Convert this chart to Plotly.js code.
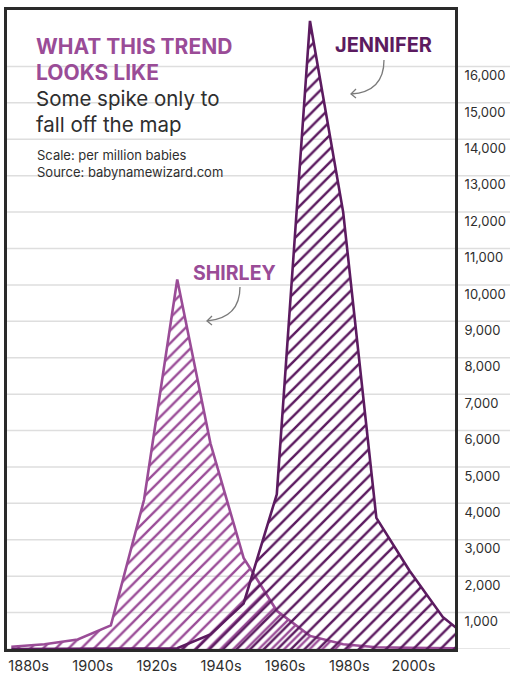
<!DOCTYPE html>
<html>
<head>
<meta charset="utf-8">
<script src="https://cdn.plot.ly/plotly-3.0.1.min.js"></script>
<style>
  html, body { margin: 0; padding: 0; background: #ffffff; }
  #chart { width: 510px; height: 673px; }
</style>
</head>
<body>
<div id="chart"></div>
<script>
// ---- Data ----
const decades = [1880, 1890, 1900, 1910, 1920, 1930, 1940, 1950, 1960, 1970, 1980, 1990, 2000, 2010, 2020];
const decadeLabels = ['1880s', '1900s', '1920s', '1940s', '1960s', '1980s', '2000s'];
const shirley  = [60, 130, 260, 650, 4100, 10150, 5650, 2500, 1050, 360, 130, 50, 30, 20, 10];
const jennifer = [0, 0, 0, 0, 0, 20, 400, 1250, 4250, 17250, 12000, 3600, 2150, 880, 150];
const yTickValues = [1000, 2000, 3000, 4000, 5000, 6000, 7000, 8000, 9000, 10000, 11000, 12000, 13000, 14000, 15000, 16000];
const gridValues = [0].concat(yTickValues);

// ---- Styling ----
const FONT = 'Inter, "Open Sans", sans-serif';
const SHIRLEY_COLOR = '#9a4c97';
const JENNIFER_COLOR = '#5c1b60';
const TEXT_DARK = '#2e2e2e';

// plot-area pixel geometry helpers (for layout placement only)
const L = 7, R = 455, T = 10, B = 649;
const px = x => (x - L) / (R - L);
const py = y => (B - y) / (B - T);

const traces = [
  {
    x: decades, y: shirley, type: 'scatter', mode: 'lines', name: 'Shirley',
    line: { color: SHIRLEY_COLOR, width: 2.6 },
    fill: 'tozeroy', fillcolor: 'rgba(0,0,0,0)',
    fillpattern: { shape: '/', size: 9, solidity: 0.26, fgcolor: SHIRLEY_COLOR, bgcolor: 'rgba(0,0,0,0)' },
    hoverinfo: 'skip'
  },
  {
    x: decades, y: jennifer, type: 'scatter', mode: 'lines', name: 'Jennifer',
    line: { color: JENNIFER_COLOR, width: 2.6 },
    fill: 'tozeroy', fillcolor: 'rgba(0,0,0,0)',
    fillpattern: { shape: '/', size: 9.6, solidity: 0.26, fgcolor: JENNIFER_COLOR, bgcolor: 'rgba(0,0,0,0)' },
    hoverinfo: 'skip'
  }
];

const shapes = gridValues.map(v => ({
  type: 'line', xref: 'paper', yref: 'y', x0: 0, x1: px(510), y0: v, y1: v,
  line: { color: '#dedede', width: 1.5 }, layer: 'below'
}));

function curvedArrow(x0, y0, cx, cy, x1, y1, hx1, hy1, hx2, hy2) {
  return [
    { type: 'path', xref: 'paper', yref: 'paper',
      path: `M${px(x0)},${py(y0)} Q${px(cx)},${py(cy)} ${px(x1)},${py(y1)}`,
      line: { color: '#7a7a7a', width: 1.3 } },
    { type: 'path', xref: 'paper', yref: 'paper',
      path: `M${px(hx1)},${py(hy1)} L${px(x1)},${py(y1)} L${px(hx2)},${py(hy2)}`,
      line: { color: '#7a7a7a', width: 1.3 } }
  ];
}
shapes.push(...curvedArrow(240, 287, 240, 318, 207, 321, 212, 316, 212, 325));
shapes.push(...curvedArrow(384, 60, 384, 92, 351, 94, 356, 89, 356, 98));

function textAnn(text, x, y, size, color, bold) {
  return {
    text: bold ? `<b>${text}</b>` : text,
    xref: 'paper', yref: 'paper', x: px(x), y: py(y),
    xanchor: 'left', yanchor: 'middle', showarrow: false,
    font: { family: FONT, size: size, color: color }
  };
}

const annotations = [
  textAnn('WHAT THIS TREND', 34, 46.5, 21, SHIRLEY_COLOR, true),
  textAnn('LOOKS LIKE', 34, 72.5, 21, SHIRLEY_COLOR, true),
  textAnn('Some spike only to', 34, 98, 20.5, TEXT_DARK, false),
  textAnn('fall off the map', 34, 124, 20.5, TEXT_DARK, false),
  textAnn('Scale: per million babies', 35, 155, 13, TEXT_DARK, false),
  textAnn('Source: babynamewizard.com', 35, 171.5, 13, TEXT_DARK, false),
  textAnn('SHIRLEY', 191, 273, 19.5, SHIRLEY_COLOR, true),
  textAnn('JENNIFER', 333, 45, 20, JENNIFER_COLOR, true)
];

const tickPositions = decadeLabels.map((_, i) => 1885.2 + i * 19.33);

const layout = {
  width: 510, height: 673,
  margin: { l: L, r: 510 - R, t: T, b: 673 - B, pad: 0 },
  paper_bgcolor: '#ffffff', plot_bgcolor: '#ffffff',
  showlegend: false,
  xaxis: {
    range: [1878.7, 2013.7], fixedrange: true,
    tickmode: 'array', tickvals: tickPositions, ticktext: decadeLabels,
    showgrid: false, zeroline: false, ticks: '',
    showline: true, mirror: true, linewidth: 3, linecolor: '#2a2a2a',
    tickfont: { family: FONT, size: 14.5, color: TEXT_DARK },
    ticklabelstandoff: 2
  },
  yaxis: {
    side: 'right', range: [0, 17550], fixedrange: true,
    tickmode: 'array', tickvals: yTickValues,
    ticktext: yTickValues.map(v => v.toLocaleString('en-US')),
    ticklabelposition: 'outside bottom',
    showgrid: false, zeroline: false, ticks: '',
    showline: true, mirror: true, linewidth: 3, linecolor: '#2a2a2a',
    tickfont: { family: FONT, size: 13, color: TEXT_DARK },
    ticklabelstandoff: 4
  },
  shapes: shapes,
  annotations: annotations
};

Plotly.newPlot('chart', traces, layout, { displayModeBar: false, staticPlot: true });
</script>
</body>
</html>
